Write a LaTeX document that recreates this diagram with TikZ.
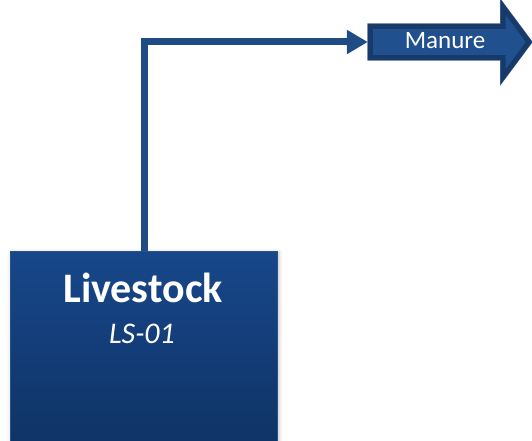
\documentclass[tikz,border=0pt]{standalone}
\usepackage{fontspec}
\setmainfont{Carlito}
\usetikzlibrary{arrows.meta,calc,shadows.blur}
\pgfdeclarelayer{background}
\pgfsetlayers{background,main}
\definecolor{flowblue}{HTML}{1F4C85}
\definecolor{arrowfill}{HTML}{21508F}
\definecolor{arrowedge}{HTML}{173A6A}
\definecolor{arrowrim}{HTML}{4C6C98}
\definecolor{boxtop}{HTML}{17478A}
\definecolor{boxbottom}{HTML}{0F3366}
\tikzset{
  unitbox/.style={rectangle, top color=boxtop, bottom color=boxbottom,
    draw=boxtop!80!gray, line width=0.6pt, inner sep=0pt,
    blur shadow={shadow xshift=1.5pt, shadow yshift=-1.5pt, shadow blur radius=4pt, shadow opacity=30}},
  flowline/.style={draw=flowblue, line width=7pt, line join=miter,
    -{Triangle[length=21pt,width=23pt]}},
  streamrim/.style={draw=arrowrim, line width=6pt, line join=miter},
  streamarrow/.style={fill=arrowfill, draw=arrowedge, line width=5pt, line join=miter},
  streamlabel/.style={inner sep=0pt, minimum width=132.5pt, minimum height=31pt}
}
\begin{document}
\begin{tikzpicture}[x=1pt,y=-1pt]
  \useasboundingbox (0,0) rectangle (532,441);
  % livestock unit, cut off by the lower edge
  \node[unitbox, minimum width=267pt, minimum height=196pt] (ls) at (143.5,349) {};
  \node[text=white, font=\fontsize{42}{44}\selectfont\bfseries, anchor=base] (lsname) at (143,302) {Livestock};
  \node[text=white, font=\fontsize{30}{32}\selectfont\itshape, anchor=base] (lstag) at (142,343) {LS-01};
  % outgoing stream label and its block arrow
  \node[streamlabel] (manure) at (436.75,42) {};
  \node[text=white, font=\fontsize{25}{27}\selectfont, anchor=base] (manuretxt) at (445,48.5) {Manure};
  \begin{pgfonlayer}{background}
    \draw[streamrim] (manure.south west) -- (manure.north west) -- (manure.north east)
      -- ++(0,-19) -- (529,42) -- ($(manure.south east)+(0,19)$) -- (manure.south east) -- cycle;
    \draw[streamarrow] (manure.south west) -- (manure.north west) -- (manure.north east)
      -- ++(0,-19) -- (529,42) -- ($(manure.south east)+(0,19)$) -- (manure.south east) -- cycle;
  \end{pgfonlayer}
  % stream line from the unit to the label
  \coordinate (bend) at (144,42);
  \draw[flowline] (ls.north -| bend) -- (bend) -- ($(manure.west |- bend)+(-2.5,0)$);
\end{tikzpicture}
\end{document}
